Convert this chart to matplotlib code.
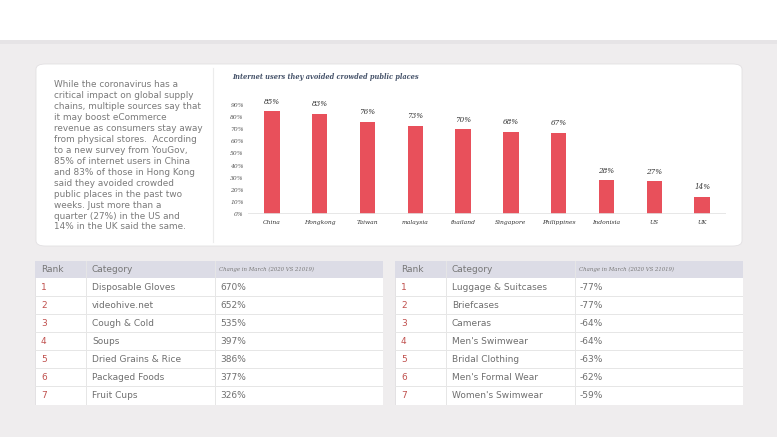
import matplotlib
matplotlib.use("Agg")
import matplotlib.pyplot as plt
from matplotlib.patches import FancyBboxPatch, Rectangle

# ---------------- data ----------------
countries = ["China", "Hongkong", "Taiwan", "malaysia", "thailand", "Singapore",
             "Philippines", "Indonisia", "US", "UK"]
avoided_pct = [85, 83, 76, 73, 70, 68, 67, 28, 27, 14]
ytick_vals = [0, 10, 20, 30, 40, 50, 60, 70, 80, 90]

intro_text = ("While the coronavirus has a\ncritical impact on global supply\n"
              "chains, multiple sources say that\nit may boost eCommerce\n"
              "revenue as consumers stay away\nfrom physical stores.  According\n"
              "to a new survey from YouGov,\n85% of internet users in China\n"
              "and 83% of those in Hong Kong\nsaid they avoided crowded\n"
              "public places in the past two\nweeks. Just more than a\n"
              "quarter (27%) in the US and\n14% in the UK said the same.")
chart_title = "Internet users they avoided crowded public places"

table_header = ["Rank", "Category", "Change in March (2020 VS 21019)"]
ranks = ["1", "2", "3", "4", "5", "6", "7"]
top_categories = ["Disposable Gloves", "videohive.net", "Cough & Cold", "Soups",
                  "Dried Grains & Rice", "Packaged Foods", "Fruit Cups"]
top_changes = ["670%", "652%", "535%", "397%", "386%", "377%", "326%"]
bottom_categories = ["Luggage & Suitcases", "Briefcases", "Cameras", "Men's Swimwear",
                     "Bridal Clothing", "Men's Formal Wear", "Women's Swimwear"]
bottom_changes = ["-77%", "-77%", "-64%", "-64%", "-63%", "-62%", "-59%"]

# ---------------- figure ----------------
W, H = 777, 437
fig = plt.figure(figsize=(W / 100, H / 100), dpi=100)
fig.patch.set_facecolor("#efedee")

def fx(x):
    return x / W

def fy(y):
    return 1 - y / H

# top white band
fig.patches.append(Rectangle((0, fy(40)), 1, 40 / H, transform=fig.transFigure,
                             facecolor="white", edgecolor="none", zorder=-5))
fig.patches.append(Rectangle((0, fy(44)), 1, 4 / H, transform=fig.transFigure,
                             facecolor="#e6e4e6", edgecolor="none", zorder=-5))

# card
card = FancyBboxPatch((fx(36), fy(246)), fx(742) - fx(36), (246 - 64) / H,
                      boxstyle="round,pad=0,rounding_size=0.012",
                      transform=fig.transFigure, facecolor="white",
                      edgecolor="#e2e0e2", linewidth=0.6, zorder=-4)
fig.patches.append(card)
fig.lines.append(plt.Line2D([fx(213), fx(213)], [fy(68), fy(242)],
                            transform=fig.transFigure, color="#ececec", lw=0.8, zorder=-3))

fig.text(fx(54), fy(80), intro_text, fontsize=6.4, color="#7a7a7a",
         va="top", ha="left", linespacing=1.28, family="DejaVu Sans")

# ---------------- bar chart ----------------
ax = fig.add_axes([fx(248), fy(214), fx(726) - fx(248), (214 - 99) / H])
ax.set_facecolor("none")
xs = list(range(len(countries)))
ax.bar(xs, avoided_pct, width=0.32, color="#e8505b", zorder=2)
ax.set_xlim(-0.5, len(countries) - 0.5)
ax.set_ylim(0, 95)
for s in ax.spines.values():
    s.set_visible(False)
ax.axhline(0, color="#e3e3e3", lw=1.2, zorder=3)
ax.set_yticks(ytick_vals)
ax.set_yticklabels([f"{v}%" for v in ytick_vals], fontsize=4.3, family="DejaVu Serif",
                   style="italic", color="#555555")
ax.set_xticks(xs)
ax.set_xticklabels(countries, fontsize=4.3, family="DejaVu Serif", style="italic",
                   color="#333333")
ax.tick_params(axis="both", length=0, pad=3)
ax.tick_params(axis="x", pad=4)
for x, v in zip(xs, avoided_pct):
    ax.annotate(f"{v}%", (x, v), xytext=(0, 4), textcoords="offset points",
                ha="center", va="bottom", fontsize=5.2, family="DejaVu Serif",
                style="italic", color="#333333")
fig.text(fx(232), fy(77), chart_title, fontsize=4.8, family="DejaVu Serif",
         style="italic", weight="bold", color="#46536a", va="center", ha="left")

# ---------------- tables ----------------
def draw_table(left, cats, changes):
    width = 348
    tax = fig.add_axes([fx(left), fy(405), width / W, (405 - 261) / H])
    tax.set_xlim(0, width)
    tax.set_ylim(144, 0)
    tax.axis("off")
    tax.add_patch(Rectangle((0, 0), width, 144, facecolor="white",
                            edgecolor="#e0dee0", lw=0.6))
    tax.add_patch(Rectangle((0, 0), width, 17, facecolor="#dcdce6", edgecolor="none"))
    row_h = 18
    for i in range(1, 7):
        y = 17 + i * row_h
        tax.plot([0, width], [y, y], color="#e6e6e6", lw=0.7)
    tax.plot([51, 51], [0, 144], color="#e6e6e6", lw=0.7)
    tax.plot([180, 180], [0, 144], color="#e6e6e6", lw=0.7)
    tax.text(6, 8.5, table_header[0], fontsize=6.5, color="#777777", va="center")
    tax.text(57, 8.5, table_header[1], fontsize=6.5, color="#777777", va="center")
    tax.text(184, 8.5, table_header[2], fontsize=3.9, color="#777777", va="center",
             family="DejaVu Serif", style="italic")
    for i, (r, c, ch) in enumerate(zip(ranks, cats, changes)):
        yc = 17 + i * row_h + row_h / 2
        tax.text(6, yc, r, fontsize=6.5, color="#c0504d", va="center")
        tax.text(57, yc, c, fontsize=6.5, color="#6f6f6f", va="center")
        tax.text(185, yc, ch, fontsize=6.5, color="#6f6f6f", va="center")

draw_table(35, top_categories, top_changes)
draw_table(395, bottom_categories, bottom_changes)

fig.savefig("out.png", dpi=100, facecolor=fig.get_facecolor())
